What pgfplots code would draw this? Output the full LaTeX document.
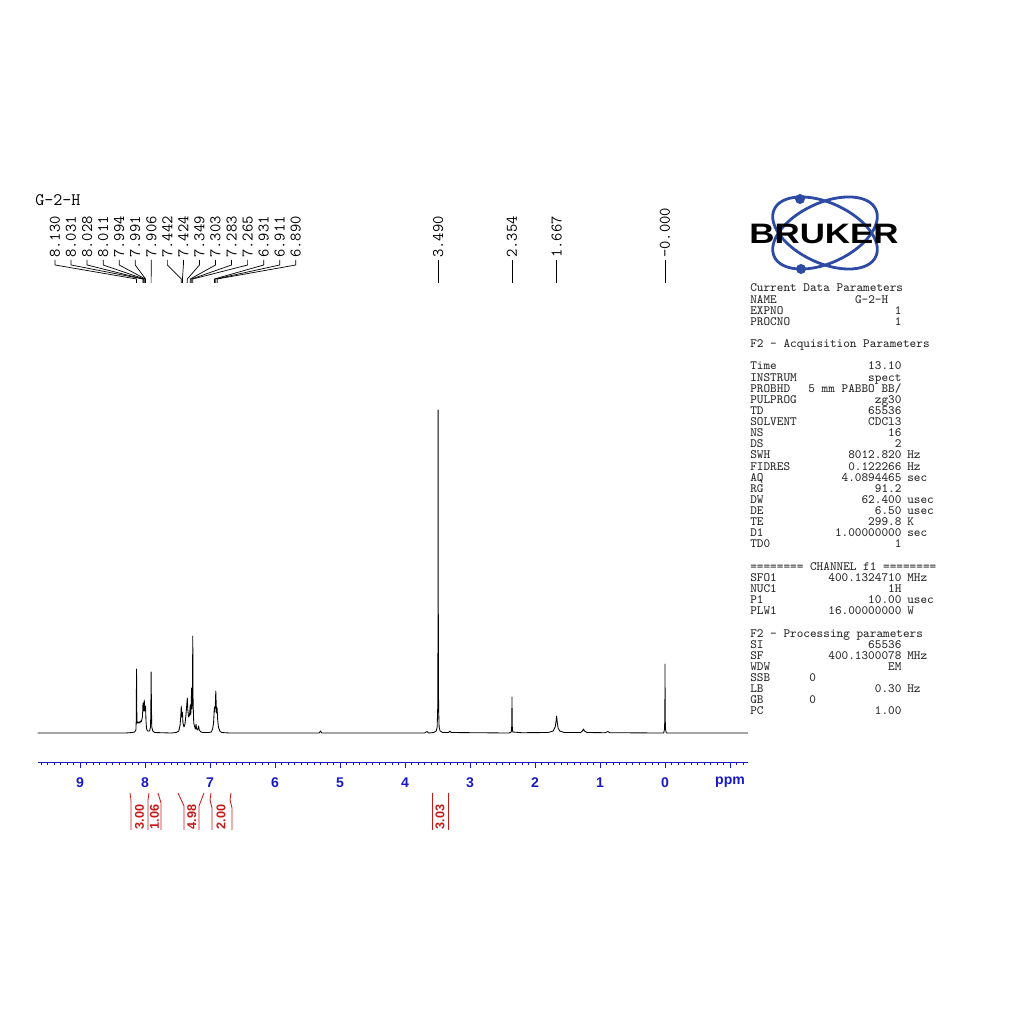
\documentclass[border=0pt]{standalone}
\usepackage{fontspec}
\setmainfont{Liberation Sans}
\usepackage{pgfplots}
\pgfplotsset{compat=1.18}
\definecolor{axblue}{RGB}{25,25,200}
\definecolor{intred}{RGB}{200,25,25}
\definecolor{logoblue}{RGB}{45,75,165}

% one parameter line of the right panel: line index, label, value, unit
\newcommand{\pl}[4]{%
  \pgfmathsetmacro\yy{288+11.13*#1+4}%
  \node[anchor=base west] at (750,\yy) {#2};%
  \node[anchor=base east] at (901.7,\yy) {#3};%
  \node[anchor=base west] at (907,\yy) {#4};}

\begin{document}
\begin{tikzpicture}
\begin{axis}[
  scale only axis, width=177.5mm, height=89.75mm,
  xmin=-1.2769, xmax=9.6462, ymin=-29, ymax=330,
  x dir=reverse,
  axis x line*=bottom, axis y line=none,
  axis line style={axblue, line width=0.6pt},
  xtick={-1,0,...,9}, xticklabels={ppm,0,1,2,3,4,5,6,7,8,9},
  minor xtick={-1.2,-1.1,...,9.6},
  tick align=outside,
  major tick length=1.6mm, minor tick length=0.8mm,
  tick style={axblue, line width=0.5pt},
  xticklabel style={font=\fontsize{10}{12}\selectfont\bfseries, text=axblue,
                    anchor=center, yshift=-3.5mm},
  clip=false,
]
\addplot[black, line width=0.6pt, line join=round] coordinates {
  (9.65,0) (8.30,0) (8.20,0.5) (8.16,1) (8.14,3) (8.135,12) (8.13,64) (8.125,14)
  (8.12,10) (8.11,11) (8.10,10) (8.09,11) (8.08,10) (8.07,12) (8.06,11) (8.05,13)
  (8.04,16) (8.035,22) (8.031,30) (8.028,27) (8.02,22) (8.015,30) (8.011,33)
  (8.005,22) (7.999,24) (7.994,27) (7.991,26) (7.985,12) (7.975,4) (7.96,2)
  (7.93,2) (7.915,6) (7.91,22) (7.906,61) (7.90,22) (7.895,6) (7.88,2) (7.85,0.5)
  (7.60,0) (7.52,0.5) (7.48,2) (7.46,8) (7.45,16) (7.442,27) (7.436,16) (7.43,18)
  (7.424,21) (7.416,10) (7.40,6) (7.385,9) (7.37,18) (7.36,26) (7.349,35)
  (7.342,24) (7.33,16) (7.315,18) (7.303,28) (7.296,18) (7.288,32) (7.283,45)
  (7.277,24) (7.27,38) (7.265,97) (7.26,30) (7.25,10) (7.235,6) (7.225,4)
  (7.215,9) (7.205,4) (7.19,3) (7.175,7) (7.165,3) (7.14,1) (7.10,0.5)
  (7.02,0.5) (6.98,1) (6.96,4) (6.945,10) (6.936,22) (6.931,26) (6.925,21)
  (6.918,28) (6.911,42) (6.904,28) (6.897,20) (6.890,25) (6.883,14) (6.87,6)
  (6.85,2) (6.82,0.5) (6.70,0) (5.32,0) (5.30,2) (5.28,0) (3.70,0) (3.66,1.5)
  (3.64,0) (3.56,0.5) (3.52,2) (3.505,6) (3.497,25) (3.493,90) (3.49,323)
  (3.487,90) (3.483,25) (3.475,6) (3.46,2) (3.42,0.5) (3.33,0.5) (3.31,2)
  (3.29,0.5) (2.40,0) (2.365,1) (2.357,8) (2.354,36) (2.351,8) (2.343,1)
  (2.20,0.3) (1.80,0.5) (1.72,2) (1.69,6) (1.675,12) (1.667,17) (1.66,12)
  (1.645,5) (1.62,2) (1.55,0.5) (1.30,0.5) (1.27,2) (1.255,4) (1.24,2)
  (1.20,0.5) (0.92,0.3) (0.88,1.5) (0.85,0.3) (0.02,0) (0.007,4) (0.002,20)
  (0.0,69) (-0.002,20) (-0.007,4) (-0.02,0) (-1.2769,0)
};
\coordinate (TL) at (axis cs:10.230769,733);
\end{axis}

\begin{scope}[shift={(TL)}, x=0.25mm, y=-0.25mm, inner sep=0pt]
\path (0,0) rectangle (1024,1024);

% title and peak labels
\node[anchor=west, font=\ttfamily\fontsize{12.5}{13}\selectfont] at (35,200) {G-2-H};
\foreach \i/\v in {0/8.130,1/8.031,2/8.028,3/8.011,4/7.994,5/7.991,6/7.906,7/7.442,
                   8/7.424,9/7.349,10/7.303,11/7.283,12/7.265,13/6.931,14/6.911,15/6.890}{
  \pgfmathsetmacro\xl{55+16.05*\i}
  \pgfmathsetmacro\xp{665-65*\v}
  \draw[line width=0.5pt] (\xl,260) -- (\xl,265) -- (\xp,279) -- (\xp,283);
  \node[rotate=90, anchor=west, font=\ttfamily\fontsize{11.5}{12}\selectfont] at (\xl,258) {\v};
}
\foreach \v/\t in {3.490/3.490, 2.354/2.354, 1.667/1.667, 0/-0.000}{
  \pgfmathsetmacro\xp{665-65*\v}
  \draw[line width=0.5pt] (\xp,260) -- (\xp,283);
  \node[rotate=90, anchor=west, font=\ttfamily\fontsize{11.5}{12}\selectfont] at (\xp,258) {\t};
}

% integrals
\begin{scope}[intred, line width=0.6pt]
\draw (130,793) -- (131,800) -- (131,830);
\draw (149,793) -- (148,800) -- (148,830);
\draw (158,793) -- (161,803) -- (161,830);
\draw (178,793) -- (184,806) -- (184,830);
\draw (204,793) -- (199,806) -- (199,830);
\draw (211,793) -- (210,800) -- (212,808) -- (212,830);
\draw (231,793) -- (230,800) -- (232,808) -- (232,830);
\draw (432,793) -- (432,830);
\draw (448,793) -- (448,830);
\end{scope}
\foreach \x/\t in {139.5/3.00, 154.5/1.06, 191.7/4.98, 221/2.00, 440/3.03}{
  \node[rotate=90, font=\fontsize{9}{10}\selectfont\bfseries, text=intred] at (\x,817) {\t};
}

% logo
\begin{scope}[shift={(825,233)}, logoblue, line width=0.7mm]
\draw[rotate=-25] (0,0) ellipse [x radius=14mm, y radius=7.5mm];
\draw[rotate=25] (0,0) ellipse [x radius=14mm, y radius=7.5mm];
\end{scope}
\fill[logoblue] (800,199) circle [radius=5];
\fill[logoblue] (801,269) circle [radius=5];
\node[font=\fontsize{20}{20}\selectfont\bfseries, xscale=1.24] at (824,234) {BRUKER};

% parameter panel
\begin{scope}[font=\ttfamily\fontsize{9}{10}\selectfont, text=black!85]
\pl{0}{Current Data Parameters}{}{}
\pl{1}{NAME}{}{}
\node[anchor=base east] at (888.5,{288+11.13+4}) {G-2-H};
\pl{2}{EXPNO}{1}{}
\pl{3}{PROCNO}{1}{}
\pl{5}{F2 - Acquisition Parameters}{}{}
\pl{7}{Time}{13.10}{}
\pl{8}{INSTRUM}{spect}{}
\pl{9}{PROBHD}{5 mm PABBO BB/}{}
\pl{10}{PULPROG}{zg30}{}
\pl{11}{TD}{65536}{}
\pl{12}{SOLVENT}{CDCl3}{}
\pl{13}{NS}{16}{}
\pl{14}{DS}{2}{}
\pl{15}{SWH}{8012.820}{Hz}
\pl{16}{FIDRES}{0.122266}{Hz}
\pl{17}{AQ}{4.0894465}{sec}
\pl{18}{RG}{91.2}{}
\pl{19}{DW}{62.400}{usec}
\pl{20}{DE}{6.50}{usec}
\pl{21}{TE}{299.8}{K}
\pl{22}{D1}{1.00000000}{sec}
\pl{23}{TD0}{1}{}
\pl{25}{======== CHANNEL f1 ========}{}{}
\pl{26}{SFO1}{400.1324710}{MHz}
\pl{27}{NUC1}{1H}{}
\pl{28}{P1}{10.00}{usec}
\pl{29}{PLW1}{16.00000000}{W}
\pl{31}{F2 - Processing parameters}{}{}
\pl{32}{SI}{65536}{}
\pl{33}{SF}{400.1300078}{MHz}
\pl{34}{WDW}{EM}{}
\pl{35}{SSB}{}{}
\node[anchor=base] at (812.7,{288+11.13*35+4}) {0};
\pl{36}{LB}{0.30}{Hz}
\pl{37}{GB}{}{}
\node[anchor=base] at (812.7,{288+11.13*37+4}) {0};
\pl{38}{PC}{1.00}{}
\end{scope}
\end{scope}
\end{tikzpicture}
\end{document}
